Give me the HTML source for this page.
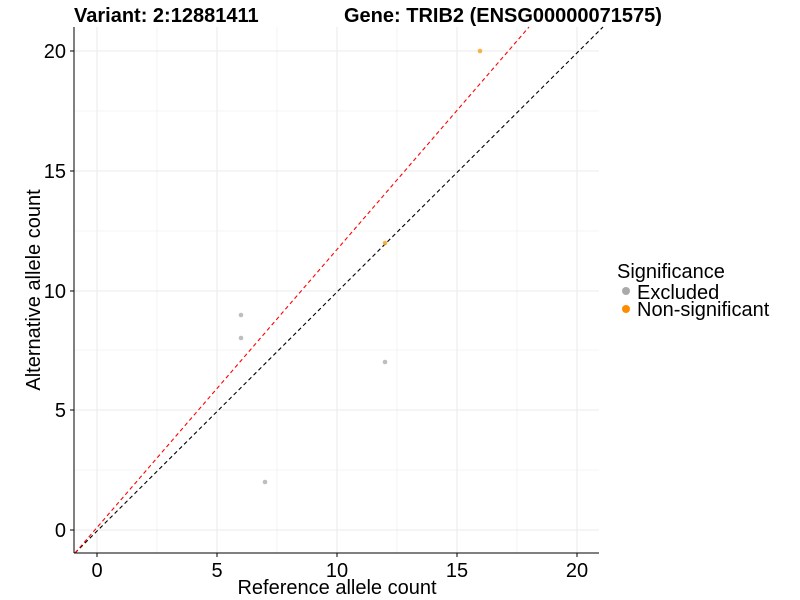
<!DOCTYPE html>
<html><head><style>body{margin:0;background:#fff}svg{display:block}</style></head><body>
<svg width="800" height="600" xmlns="http://www.w3.org/2000/svg" font-family="Liberation Sans, Arial, sans-serif">
<rect width="800" height="600" fill="#fff"/>
<g stroke="#ebebeb" stroke-width="0.6">
<line x1="157" y1="27" x2="157" y2="553"/><line x1="277" y1="27" x2="277" y2="553"/><line x1="397" y1="27" x2="397" y2="553"/><line x1="517" y1="27" x2="517" y2="553"/>
<line x1="74" y1="470" x2="599" y2="470"/><line x1="74" y1="350" x2="599" y2="350"/><line x1="74" y1="231" x2="599" y2="231"/><line x1="74" y1="111" x2="599" y2="111"/>
</g>
<g stroke="#ebebeb" stroke-width="1.1">
<line x1="97" y1="27" x2="97" y2="553"/><line x1="217" y1="27" x2="217" y2="553"/><line x1="337" y1="27" x2="337" y2="553"/><line x1="457" y1="27" x2="457" y2="553"/><line x1="577" y1="27" x2="577" y2="553"/>
<line x1="74" y1="530" x2="599" y2="530"/><line x1="74" y1="410" x2="599" y2="410"/><line x1="74" y1="291" x2="599" y2="291"/><line x1="74" y1="171" x2="599" y2="171"/><line x1="74" y1="51" x2="599" y2="51"/>
</g>
<g fill="#bebebe">
<circle cx="241" cy="315" r="2.3"/><circle cx="241" cy="338" r="2.3"/><circle cx="385" cy="362" r="2.3"/><circle cx="265" cy="482" r="2.3"/>
</g>
<line x1="75" y1="553" x2="603" y2="27" stroke="#000" stroke-width="1.1" stroke-dasharray="4,3"/>
<line x1="75" y1="553" x2="529" y2="27" stroke="#ff0000" stroke-width="1.1" stroke-dasharray="4,3"/>
<g fill="#f5a623" opacity="0.85">
<circle cx="385" cy="243" r="2.3"/><circle cx="480" cy="51" r="2.3"/>
</g>
<line x1="74" y1="27" x2="74" y2="553" stroke="#000" stroke-width="1"/>
<line x1="74" y1="553" x2="599" y2="553" stroke="#000" stroke-width="1"/>
<g stroke="#000"><line x1="70" y1="530" x2="74" y2="530"/><line x1="70" y1="410" x2="74" y2="410"/><line x1="70" y1="291" x2="74" y2="291"/><line x1="70" y1="171" x2="74" y2="171"/><line x1="70" y1="51" x2="74" y2="51"/>
<line x1="97" y1="553" x2="97" y2="557"/><line x1="217" y1="553" x2="217" y2="557"/><line x1="337" y1="553" x2="337" y2="557"/><line x1="457" y1="553" x2="457" y2="557"/><line x1="577" y1="553" x2="577" y2="557"/></g>
<g font-size="20" fill="#000" text-anchor="end">
<text x="66" y="537">0</text><text x="66" y="417">5</text><text x="66" y="298">10</text><text x="66" y="178">15</text><text x="66" y="58">20</text></g>
<g font-size="20" fill="#000" text-anchor="middle">
<text x="97" y="577">0</text><text x="217" y="577">5</text><text x="337" y="577">10</text><text x="457" y="577">15</text><text x="577" y="577">20</text>
<text x="337" y="594">Reference allele count</text></g>
<text transform="translate(40,290) rotate(-90)" font-size="20" text-anchor="middle">Alternative allele count</text>
<text x="74" y="22" font-size="20" font-weight="bold">Variant: 2:12881411</text>
<text x="344" y="22" font-size="20" font-weight="bold">Gene: TRIB2 (ENSG00000071575)</text>
<text x="617" y="278" font-size="20">Significance</text>
<circle cx="626" cy="291" r="4" fill="#aaaaaa"/><text x="637" y="299" font-size="20">Excluded</text>
<circle cx="626" cy="309" r="4" fill="#ff8c00"/><text x="637" y="316" font-size="20">Non-significant</text>
</svg>
</body></html>
